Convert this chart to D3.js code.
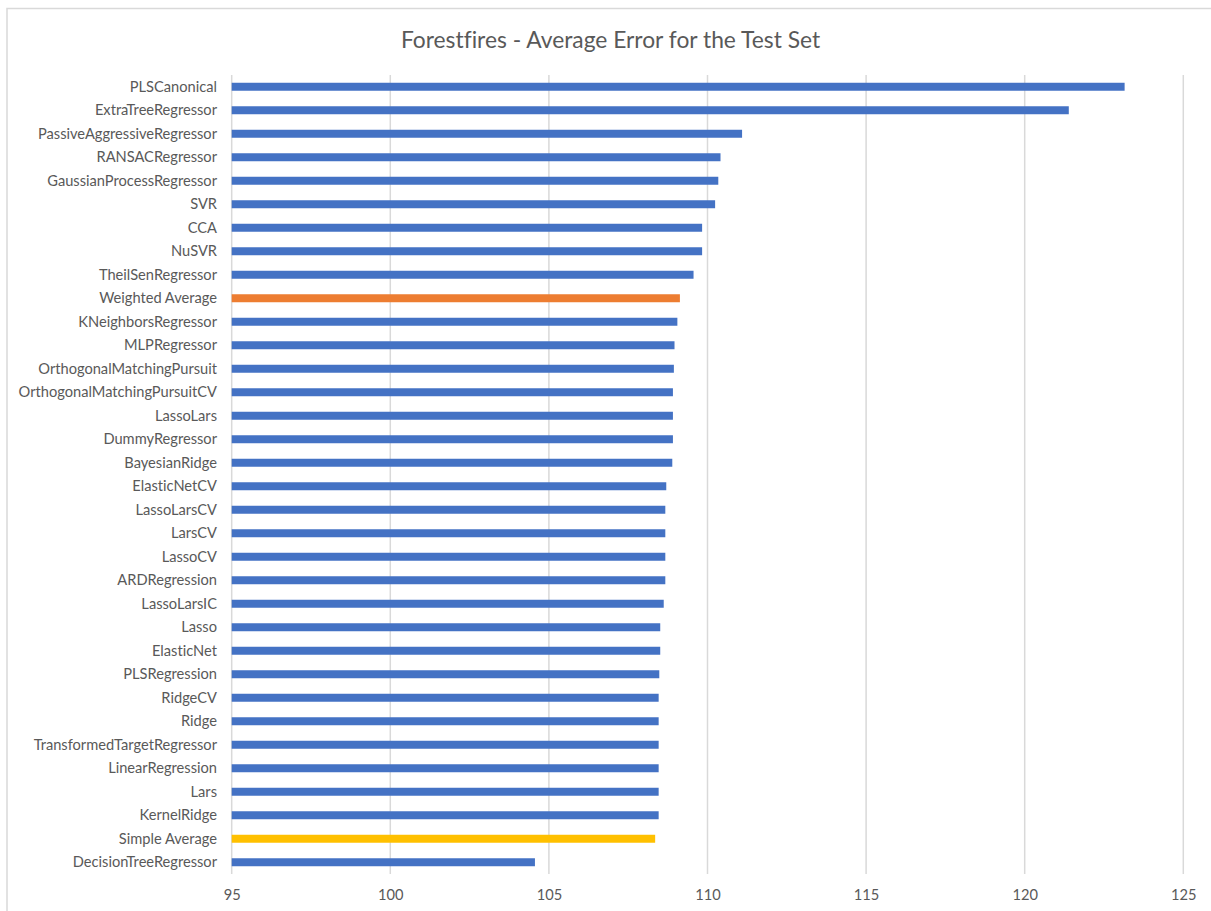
<!DOCTYPE html>
<html>
<head>
<meta charset="utf-8">
<script src="https://cdn.jsdelivr.net/npm/d3@7"></script>
<style>
  html, body { margin: 0; padding: 0; background: #fff; }
  svg { display: block; }
  text { font-family: Lato, "Open Sans", sans-serif; fill: #595959; font-variant-ligatures: none; }
</style>
</head>
<body>
<svg id="chart" width="1211" height="911"></svg>
<script>
// Models, top to bottom
const models = [
  "PLSCanonical", "ExtraTreeRegressor", "PassiveAggressiveRegressor", "RANSACRegressor",
  "GaussianProcessRegressor", "SVR", "CCA", "NuSVR", "TheilSenRegressor", "Weighted Average",
  "KNeighborsRegressor", "MLPRegressor", "OrthogonalMatchingPursuit", "OrthogonalMatchingPursuitCV",
  "LassoLars", "DummyRegressor", "BayesianRidge", "ElasticNetCV", "LassoLarsCV", "LarsCV",
  "LassoCV", "ARDRegression", "LassoLarsIC", "Lasso", "ElasticNet", "PLSRegression",
  "RidgeCV", "Ridge", "TransformedTargetRegressor", "LinearRegression", "Lars",
  "KernelRidge", "Simple Average", "DecisionTreeRegressor"
];

// Average test-set error per model
const avgError = [
  123.15, 121.39, 111.09, 110.41,
  110.34, 110.24, 109.83, 109.83, 109.56, 109.13,
  109.05, 108.96, 108.94, 108.91,
  108.91, 108.91, 108.89, 108.70, 108.67, 108.67,
  108.67, 108.67, 108.62, 108.51, 108.51, 108.48,
  108.46, 108.46, 108.46, 108.46, 108.46,
  108.46, 108.35, 104.56
];

const xTicks = [95, 100, 105, 110, 115, 120, 125];
const xDomain = [95, 125];

const title = "Forestfires - Average Error for the Test Set";

const colorFor = name =>
  name === "Weighted Average" ? "#ED7D31" :
  name === "Simple Average" ? "#FFC000" : "#4472C4";

const svg = d3.select("#chart");
const W = 1211, H = 911;
const plot = { left: 231.7, right: 1183.3, top: 75, bottom: 874 };

// chart frame
svg.append("rect")
  .attr("x", 7).attr("y", 8.5)
  .attr("width", W + 10).attr("height", H + 10)
  .attr("fill", "#fff").attr("stroke", "#D9D9D9").attr("stroke-width", 1.5);

const x = d3.scaleLinear().domain(xDomain).range([plot.left, plot.right]);
const y = d3.scaleBand().domain(models).range([plot.top, plot.bottom]).paddingInner(0.66).paddingOuter(0.33);

// vertical gridlines
svg.append("g")
  .selectAll("line")
  .data(xTicks)
  .join("line")
  .attr("x1", d => x(d)).attr("x2", d => x(d))
  .attr("y1", plot.top).attr("y2", plot.bottom)
  .attr("stroke", "#D9D9D9").attr("stroke-width", 1.5);

// bars
svg.append("g")
  .selectAll("rect")
  .data(models)
  .join("rect")
  .attr("x", x(xDomain[0]))
  .attr("y", d => y(d))
  .attr("height", y.bandwidth())
  .attr("width", (d, i) => x(avgError[i]) - x(xDomain[0]))
  .attr("fill", d => colorFor(d));

// category axis labels
const yAxis = d3.axisLeft(y).tickSize(0).tickPadding(0);
const gy = svg.append("g").attr("transform", `translate(217,0)`).call(yAxis);
gy.select(".domain").remove();
gy.selectAll("text").attr("font-size", 14.65).attr("font-family", "Lato").attr("fill", "#595959").attr("dy", "0.35em");

// value axis labels
const xAxis = d3.axisBottom(x).tickValues(xTicks).tickSize(0).tickPadding(0).tickFormat(d3.format("d"));
const gx = svg.append("g").attr("transform", `translate(0,890)`).call(xAxis);
gx.select(".domain").remove();
gx.selectAll("text").attr("font-size", 14.65).attr("font-family", "Lato").attr("fill", "#595959").attr("dy", "0.32em").attr("y", 5);

// title
svg.append("text")
  .attr("x", 610.5).attr("y", 40)
  .attr("text-anchor", "middle")
  .attr("dy", "0.35em")
  .attr("font-size", 22.8)
  .text(title);
</script>
</body>
</html>
